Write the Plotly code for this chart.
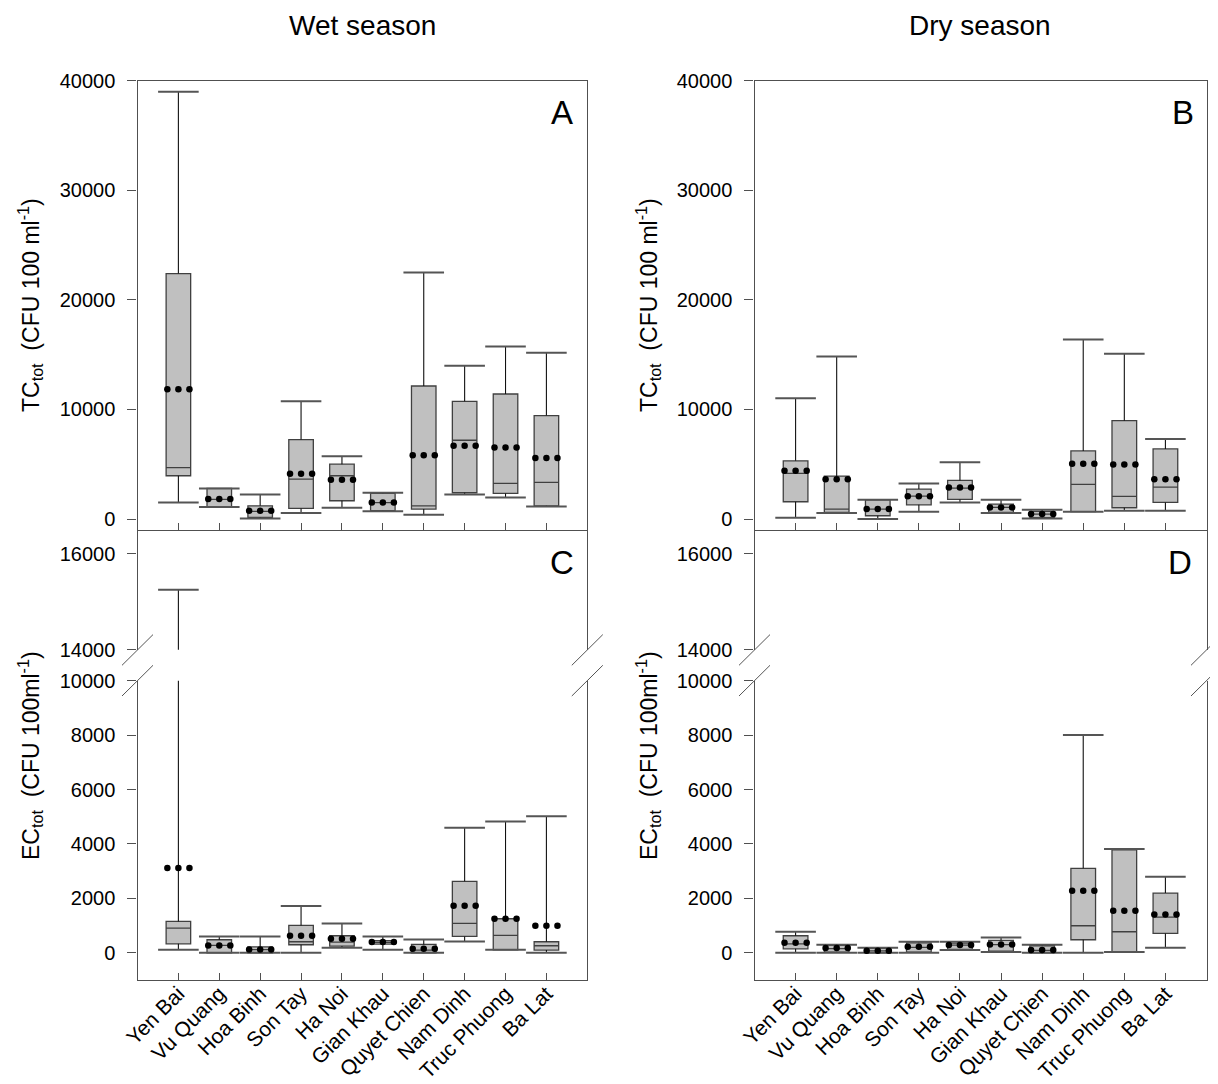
import plotly.graph_objects as go

W, H = 1218, 1084

sites = ["Yen Bai", "Vu Quang", "Hoa Binh", "Son Tay", "Ha Noi",
         "Gian Khau", "Quyet Chien", "Nam Dinh", "Truc Phuong", "Ba Lat"]

# Panel A: TC wet season
tc_wet_lo = [1500, 1100, 60, 550, 1030, 700, 390, 2250, 1970, 1150]
tc_wet_q1 = [3950, 1120, 150, 970, 1670, 760, 910, 2400, 2340, 1210]
tc_wet_med = [4700, 1800, 700, 3640, 3950, 1500, 1210, 7190, 3250, 3340]
tc_wet_q3 = [22400, 2790, 1210, 7250, 5010, 2340, 12140, 10740, 11410, 9440]
tc_wet_hi = [39000, 2790, 2250, 10740, 5740, 2400, 22500, 13990, 15750, 15180]
tc_wet_mean = [11840, 1820, 760, 4130, 3580, 1520, 5830, 6680, 6530, 5580]

# Panel B: TC dry season
tc_dry_lo = [120, 550, 0, 670, 1520, 550, 60, 670, 760, 760]
tc_dry_q1 = [1580, 610, 300, 1300, 1790, 610, 120, 670, 1030, 1520]
tc_dry_med = [4160, 910, 900, 2090, 2820, 1060, 450, 3160, 2060, 2910]
tc_dry_q3 = [5310, 3920, 1760, 2730, 3520, 1370, 700, 6220, 8980, 6400]
tc_dry_hi = [11020, 14840, 1760, 3250, 5190, 1760, 850, 16390, 15080, 7310]
tc_dry_mean = [4400, 3640, 910, 2090, 2880, 1060, 460, 5040, 4980, 3640]

# Panel C: EC wet season
ec_wet_lo = [110, 0, 0, 0, 184, 110, 0, 417, 110, 0]
ec_wet_q1 = [331, 0, 0, 295, 245, 320, 0, 600, 110, 98]
ec_wet_med = [908, 270, 120, 405, 393, 380, 100, 1080, 638, 258]
ec_wet_q3 = [1153, 480, 220, 1006, 626, 450, 307, 2626, 1251, 405]
ec_wet_hi = [15250, 600, 600, 1718, 1080, 600, 490, 4600, 4822, 5018]
ec_wet_mean = [3117, 270, 120, 626, 515, 393, 147, 1730, 1251, 994]

# Panel D: EC dry season
ec_dry_lo = [0, 0, 0, 0, 98, 25, 0, 0, 25, 184]
ec_dry_q1 = [147, 25, 0, 25, 123, 61, 0, 479, 25, 712]
ec_dry_med = [330, 150, 70, 200, 282, 300, 90, 994, 773, 1313]
ec_dry_q3 = [626, 270, 160, 368, 356, 454, 258, 3104, 3780, 2196]
ec_dry_hi = [773, 295, 184, 405, 405, 564, 295, 8000, 3816, 2797]
ec_dry_mean = [368, 172, 74, 221, 282, 307, 98, 2282, 1546, 1411]

tc_ticks = [0, 10000, 20000, 30000, 40000]
ec_low_ticks = [0, 2000, 4000, 6000, 8000, 10000]
ec_up_ticks = [14000, 16000]

FONT = "Arial, Liberation Sans, sans-serif"
FRAME = "#505050"
idx = list(range(len(sites)))

fig = go.Figure()


def add_panel(xa, ya, lo, q1, med, q3, hi, mean):
    xr = "x" if xa == 1 else f"x{xa}"
    yr = "y" if ya == 1 else f"y{ya}"
    fig.add_trace(go.Box(
        x=idx, q1=q1, median=med, q3=q3, lowerfence=q1, upperfence=q3,
        width=0.6, whiskerwidth=0, fillcolor="#c0c0c0",
        line=dict(color="#404040", width=1.3), boxpoints=False,
        xaxis=xr, yaxis=yr, showlegend=False, hoverinfo="skip"))
    # upper whiskers
    fig.add_trace(go.Scatter(
        x=idx, y=q3, mode="markers", marker=dict(color="rgba(0,0,0,0)", size=1),
        error_y=dict(type="data", symmetric=False,
                     array=[h - q for h, q in zip(hi, q3)],
                     arrayminus=[0] * len(idx), width=0, thickness=1.1, color="#111"),
        xaxis=xr, yaxis=yr, showlegend=False, hoverinfo="skip"))
    # lower whiskers
    fig.add_trace(go.Scatter(
        x=idx, y=q1, mode="markers", marker=dict(color="rgba(0,0,0,0)", size=1),
        error_y=dict(type="data", symmetric=False,
                     array=[0] * len(idx),
                     arrayminus=[q - l for q, l in zip(q1, lo)],
                     width=0, thickness=1.1, color="#111"),
        xaxis=xr, yaxis=yr, showlegend=False, hoverinfo="skip"))
    # caps
    fig.add_trace(go.Scatter(
        x=idx + idx, y=list(hi) + list(lo), mode="markers",
        marker=dict(symbol="line-ew", size=29, line=dict(color="#555", width=2)),
        xaxis=xr, yaxis=yr, showlegend=False, hoverinfo="skip"))
    # means as dotted lines of dots
    mx, my = [], []
    for i, m in zip(idx, mean):
        for off in (-0.27, 0.0, 0.27):
            mx.append(i + off)
            my.append(m)
    fig.add_trace(go.Scatter(
        x=mx, y=my, mode="markers", marker=dict(color="black", size=6.5),
        xaxis=xr, yaxis=yr, showlegend=False, hoverinfo="skip"))


add_panel(1, 1, tc_wet_lo, tc_wet_q1, tc_wet_med, tc_wet_q3, tc_wet_hi, tc_wet_mean)
add_panel(2, 2, tc_dry_lo, tc_dry_q1, tc_dry_med, tc_dry_q3, tc_dry_hi, tc_dry_mean)
for a in (3, 4):
    add_panel(a, a, ec_wet_lo, ec_wet_q1, ec_wet_med, ec_wet_q3, ec_wet_hi, ec_wet_mean)
for a in (5, 6):
    add_panel(a, a, ec_dry_lo, ec_dry_q1, ec_dry_med, ec_dry_q3, ec_dry_hi, ec_dry_mean)

# the page body adds an 8px margin around the figure
OFF = 8


def px_x(p):
    return (p - OFF) / W


def px_y(p):
    return 1 - (p - OFF) / H


LEFT_X = [px_x(137.5), px_x(587.3)]
RIGHT_X = [px_x(754.5), px_x(1206.5)]
TOP_DOM = [px_y(530), px_y(80.7)]
UP_DOM = [px_y(649.7), px_y(530)]
LOW_DOM = [px_y(980), px_y(680.7)]

tickfont = dict(family=FONT, size=20, color="black")
xtickfont = dict(family=FONT, size=21, color="black")

xbase = dict(range=[-1, 10], tickvals=idx, showgrid=False, zeroline=False, automargin=False,
             linecolor=FRAME, linewidth=1.4, tickcolor=FRAME, ticklen=7, tickwidth=1.2)
ybase = dict(showgrid=False, zeroline=False, linecolor=FRAME, linewidth=1.4, automargin=False,
             showline=True, mirror=True, ticks="outside", ticklen=9, tickwidth=1.2,
             tickcolor=FRAME, tickfont=tickfont, tickformat="d", ticklabelstandoff=8)

layout = dict(
    width=W, height=H, margin=dict(l=0, r=0, t=0, b=0, autoexpand=False),
    paper_bgcolor="white", plot_bgcolor="white", boxmode="overlay",
    font=dict(family=FONT, color="black"),
    xaxis=dict(xbase, domain=LEFT_X, anchor="y", showline=True, mirror=True,
               ticks="inside", showticklabels=False),
    yaxis=dict(ybase, domain=TOP_DOM, anchor="x", range=[-1000, 40000], tickvals=tc_ticks),
    xaxis2=dict(xbase, domain=RIGHT_X, anchor="y2", showline=True, mirror=True,
                ticks="inside", showticklabels=False),
    yaxis2=dict(ybase, domain=TOP_DOM, anchor="x2", range=[-1000, 40000], tickvals=tc_ticks),
    xaxis3=dict(xbase, domain=LEFT_X, anchor="y3", visible=False),
    yaxis3=dict(ybase, domain=UP_DOM, anchor="x3", range=[14000, 16500], tickvals=ec_up_ticks),
    xaxis4=dict(xbase, domain=LEFT_X, anchor="y4", showline=True, mirror=False,
                ticks="inside", ticktext=sites, tickangle=-45, tickfont=xtickfont,
                ticklabelstandoff=-8),
    yaxis4=dict(ybase, domain=LOW_DOM, anchor="x4", range=[-1000, 10000], tickvals=ec_low_ticks),
    xaxis5=dict(xbase, domain=RIGHT_X, anchor="y5", visible=False),
    yaxis5=dict(ybase, domain=UP_DOM, anchor="x5", range=[14000, 16500], tickvals=ec_up_ticks),
    xaxis6=dict(xbase, domain=RIGHT_X, anchor="y6", showline=True, mirror=False,
                ticks="inside", ticktext=sites, tickangle=-45, tickfont=xtickfont,
                ticklabelstandoff=-8),
    yaxis6=dict(ybase, domain=LOW_DOM, anchor="x6", range=[-1000, 10000], tickvals=ec_low_ticks),
)
fig.update_layout(**layout)

# axis-break marks
shapes = []
for axx in (137.5, 587.3, 754.5, 1206.5):
    for y0 in (665.3, 696.0):
        shapes.append(dict(type="line", xref="paper", yref="paper",
                           x0=px_x(axx - 15.5), y0=px_y(y0),
                           x1=px_x(axx + 15.5), y1=px_y(y0 - 30.7),
                           line=dict(color="#555", width=1)))
fig.update_layout(shapes=shapes)

ann = []
ann.append(dict(text="Wet season", x=px_x(362), y=px_y(26), xref="paper", yref="paper",
                showarrow=False, xanchor="center", yanchor="middle",
                font=dict(family=FONT, size=28, color="black")))
ann.append(dict(text="Dry season", x=px_x(980), y=px_y(26), xref="paper", yref="paper",
                showarrow=False, xanchor="center", yanchor="middle",
                font=dict(family=FONT, size=28, color="black")))
for letter, cx, cy in (("A", 562, 112), ("B", 1183, 112), ("C", 562, 562), ("D", 1180, 562)):
    ann.append(dict(text=letter, x=px_x(cx), y=px_y(cy), xref="paper", yref="paper",
                    showarrow=False, xanchor="center", yanchor="middle",
                    font=dict(family=FONT, size=33, color="black")))
tc_title = "TC<sub>tot</sub>  (CFU 100 ml<sup>-1</sup>)"
ec_title = "EC<sub>tot</sub>  (CFU 100ml<sup>-1</sup>)"
for txt, cx, cy in ((tc_title, 30, 305), (tc_title, 648, 305),
                    (ec_title, 30, 756), (ec_title, 648, 756)):
    ann.append(dict(text=txt, x=px_x(cx), y=px_y(cy), xref="paper", yref="paper",
                    showarrow=False, xanchor="center", yanchor="middle", textangle=-90,
                    font=dict(family=FONT, size=23, color="black")))
fig.update_layout(annotations=ann)

fig.write_html("out.html")
